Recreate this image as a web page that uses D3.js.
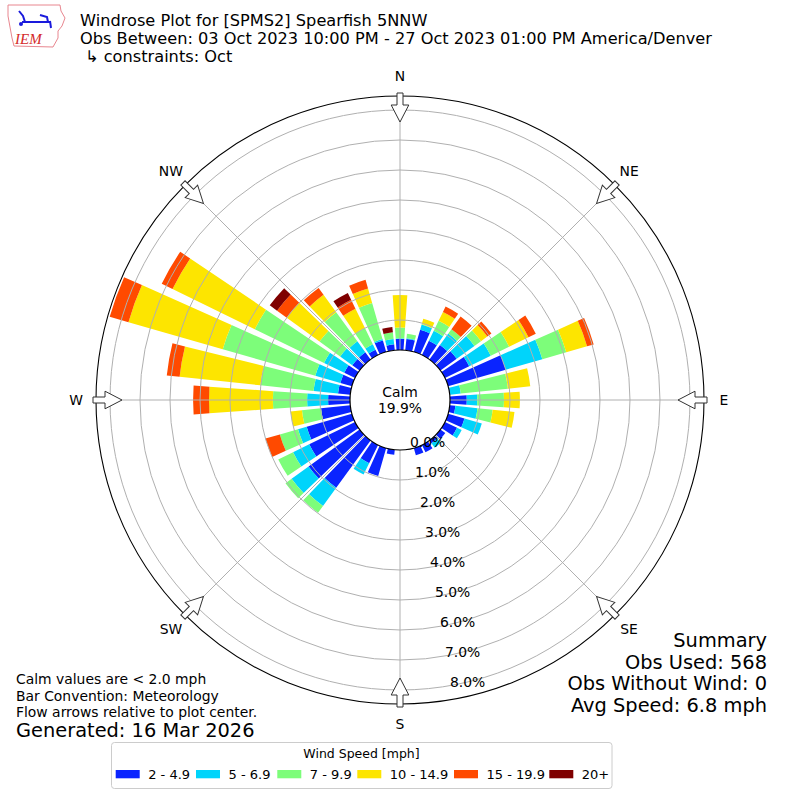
<!DOCTYPE html>
<html>
<head>
<meta charset="utf-8">
<script src="https://cdn.jsdelivr.net/npm/d3@7"></script>
<style>
  body { margin: 0; background: #fff; }
  text { font-family: "DejaVu Sans", sans-serif; fill: #000; }
</style>
</head>
<body>
<div id="rose"></div>
<script>
var svgWidth = 800;
var svgHeight = 800;
var cx = 400, cy = 400;

// direction bins (degrees, wind from), N = 0, clockwise
var directions = [0, 10, 20, 30, 40, 50, 60, 70, 80, 90, 100, 110,
                  120, 130, 140, 150, 160, 170, 180, 190, 200, 210, 220, 230,
                  240, 250, 260, 270, 280, 290, 300, 310, 320, 330, 340, 350];

// frequency (%) of each speed bin per direction
var freq_2_5   = [0.37, 0.38, 0.77, 0.53, 0.60, 0.67, 0.90, 2.00, 0.02, 0.56, 0.19, 0.57,
                  0.45, 0.20, 0.12, 0.27, 0.25, 0.00, 0.00, 0.17, 0.97, 0.68, 1.95, 2.10,
                  1.70, 1.57, 0.98, 0.73, 0.41, 0.40, 0.40, 0.30, 0.30, 0.20, 0.40, 0.20];
var freq_5_7   = [0.02, 0.02, 0.18, 0.37, 0.47, 0.73, 0.80, 1.27, 0.35, 0.35, 0.74, 0.60,
                  0.17, 0.00, 0.18, 0.00, 0.00, 0.00, 0.00, 0.00, 0.00, 0.42, 0.75, 0.70,
                  0.60, 0.30, 0.00, 0.70, 0.82, 0.87, 0.75, 0.50, 0.45, 0.20, 0.05, 0.18];
var freq_7_10  = [0.36, 0.15, 0.02, 0.37, 0.18, 0.27, 0.68, 0.83, 1.58, 0.89, 0.51, 0.00,
                  0.00, 0.00, 0.00, 0.00, 0.00, 0.00, 0.00, 0.00, 0.00, 0.00, 0.28, 0.25,
                  0.55, 0.63, 0.64, 1.14, 1.78, 3.21, 2.57, 0.85, 1.20, 0.60, 1.25, 0.22];
var freq_10_15 = [1.08, 0.00, 0.18, 0.33, 0.00, 0.26, 0.72, 0.72, 0.75, 0.53, 0.73, 0.00,
                  0.00, 0.00, 0.00, 0.00, 0.00, 0.00, 0.00, 0.00, 0.00, 0.00, 0.00, 0.00,
                  0.00, 0.00, 0.38, 2.13, 2.71, 3.27, 3.05, 1.35, 0.72, 0.72, 0.50, 0.00];
var freq_15_20 = [0.00, 0.00, 0.00, 0.20, 0.52, 0.17, 0.27, 0.23, 0.00, 0.00, 0.00, 0.00,
                  0.00, 0.00, 0.00, 0.00, 0.00, 0.00, 0.00, 0.00, 0.00, 0.00, 0.00, 0.00,
                  0.00, 0.50, 0.00, 0.53, 0.43, 0.65, 0.40, 0.40, 0.28, 0.33, 0.30, 0.00];
var freq_20up  = [0.00, 0.00, 0.00, 0.00, 0.00, 0.00, 0.00, 0.00, 0.00, 0.00, 0.00, 0.00,
                  0.00, 0.00, 0.00, 0.00, 0.00, 0.00, 0.00, 0.00, 0.00, 0.00, 0.00, 0.00,
                  0.00, 0.00, 0.00, 0.00, 0.00, 0.00, 0.00, 0.30, 0.00, 0.25, 0.00, 0.18];

var speedLabels = ["2 - 4.9", "5 - 6.9", "7 - 9.9", "10 - 14.9", "15 - 19.9", "20+"];
var speedColors = ["#0a24ff", "#00d4fb", "#7dfd7a", "#fde500", "#ff4a00", "#7f0000"];
var allFreq = [freq_2_5, freq_5_7, freq_7_10, freq_10_15, freq_15_20, freq_20up];

var ringTicks = [0, 1, 2, 3, 4, 5, 6, 7, 8];
var compassNames = ["N", "NE", "E", "SE", "S", "SW", "W", "NW"];
var compassAngles = [0, 45, 90, 135, 180, 225, 270, 315];

var titleLines = ["Windrose Plot for [SPMS2] Spearfish 5NNW",
                  "Obs Between: 03 Oct 2023 10:00 PM - 27 Oct 2023 01:00 PM America/Denver",
                  "\u21b3 constraints: Oct"];
var noteLines = ["Calm values are < 2.0 mph", "Bar Convention: Meteorology",
                 "Flow arrows relative to plot center."];
var summaryLines = ["Summary", "Obs Used: 568", "Obs Without Wind: 0", "Avg Speed: 6.8 mph"];
var calmPct = 19.9;

var svg = d3.select("#rose")
  .append("svg")
  .attr("width", svgWidth)
  .attr("height", svgHeight);

var rScale = d3.scaleLinear().domain([0, 8.4667]).range([50, 304]);
var rad = d => d * Math.PI / 180;

var chartGroup = svg.append("g")
  .attr("transform", `translate(${cx}, ${cy})`);

// stacked bar segments
var segs = [];
directions.forEach(function(dir, i) {
  var start = 0;
  allFreq.forEach(function(f, b) {
    var end = start + f[i];
    if (f[i] > 0) segs.push({dir: dir, lo: start, hi: end, bin: b});
    start = end;
  });
});

var arc = d3.arc();
chartGroup.selectAll("path.bar")
  .data(segs)
  .enter()
  .append("path")
  .attr("class", "bar")
  .attr("d", d => arc({
    innerRadius: rScale(d.lo),
    outerRadius: rScale(d.hi),
    startAngle: rad(d.dir - 4),
    endAngle: rad(d.dir + 4)
  }))
  .attr("fill", d => speedColors[d.bin]);

// grid circles
chartGroup.selectAll("circle.grid")
  .data(ringTicks.slice(1))
  .enter()
  .append("circle")
  .attr("r", d => rScale(d))
  .attr("fill", "none")
  .attr("stroke", "#b0b0b0")
  .attr("stroke-width", 1);

// radial lines
chartGroup.selectAll("line.spoke")
  .data(compassAngles)
  .enter()
  .append("line")
  .attr("x1", d => rScale(0) * Math.sin(rad(d)))
  .attr("y1", d => -rScale(0) * Math.cos(rad(d)))
  .attr("x2", d => rScale.range()[1] * Math.sin(rad(d)))
  .attr("y2", d => -rScale.range()[1] * Math.cos(rad(d)))
  .attr("stroke", "#b0b0b0")
  .attr("stroke-width", 1);

// calm circle and outer frame
chartGroup.append("circle")
  .attr("r", rScale(0))
  .attr("fill", "white")
  .attr("stroke", "black")
  .attr("stroke-width", 1.2);

chartGroup.append("circle")
  .attr("r", rScale.range()[1])
  .attr("fill", "none")
  .attr("stroke", "black")
  .attr("stroke-width", 1.1);

chartGroup.append("text")
  .attr("y", -3)
  .attr("text-anchor", "middle")
  .style("font-size", "13.9px")
  .text("Calm");
chartGroup.append("text")
  .attr("y", 13)
  .attr("text-anchor", "middle")
  .style("font-size", "13.9px")
  .text(calmPct.toFixed(1) + "%");

// flow arrows pointing to the centre
var rOut = rScale.range()[1];
var arrowPath = `M-3,${-rOut - 3} L3,${-rOut - 3} L3,${-rOut + 9} L8.8,${-rOut + 9} ` +
                `L0,${-rOut + 26} L-8.8,${-rOut + 9} L-3,${-rOut + 9} Z`;
chartGroup.selectAll("path.arrow")
  .data(compassAngles)
  .enter()
  .append("path")
  .attr("d", arrowPath)
  .attr("transform", d => `rotate(${d})`)
  .attr("fill", "white")
  .attr("stroke", "#333")
  .attr("stroke-width", 1);

// compass labels
chartGroup.selectAll("text.compass")
  .data(compassNames)
  .enter()
  .append("text")
  .attr("x", (d, i) => 324 * Math.sin(rad(compassAngles[i])))
  .attr("y", (d, i) => -324 * Math.cos(rad(compassAngles[i])) + 5)
  .attr("text-anchor", "middle")
  .style("font-size", "13.9px")
  .text(d => d);

// ring labels
chartGroup.selectAll("text.ring")
  .data(ringTicks)
  .enter()
  .append("text")
  .attr("x", d => 10 + (rScale(d) - rScale(0)) / 6)
  .attr("y", d => 47 + (rScale(d) - rScale(0)))
  .style("font-size", "13.9px")
  .text(d => d.toFixed(1) + "%");

// titles
svg.selectAll("text.title")
  .data(titleLines)
  .enter()
  .append("text")
  .attr("x", (d, i) => i == 2 ? 85 : 80)
  .attr("y", (d, i) => 26 + i * 18)
  .style("font-size", "16.2px")
  .text(d => d);

// bottom left notes
svg.selectAll("text.note")
  .data(noteLines)
  .enter()
  .append("text")
  .attr("x", 16)
  .attr("y", (d, i) => 684 + i * 16.5)
  .style("font-size", "13.9px")
  .text(d => d);

svg.append("text")
  .attr("x", 16)
  .attr("y", 737)
  .style("font-size", "19.4px")
  .text("Generated: 16 Mar 2026");

// summary
svg.selectAll("text.summary")
  .data(summaryLines)
  .enter()
  .append("text")
  .attr("x", 767)
  .attr("y", (d, i) => 647 + i * 21.7)
  .attr("text-anchor", "end")
  .style("font-size", "19.4px")
  .text(d => d);

// legend
var legend = svg.append("g");
legend.append("rect")
  .attr("x", 111.5).attr("y", 742.5)
  .attr("width", 500.5).attr("height", 46)
  .attr("rx", 3)
  .attr("fill", "white")
  .attr("stroke", "#cccccc");
legend.append("text")
  .attr("x", 361.5).attr("y", 758)
  .attr("text-anchor", "middle")
  .style("font-size", "12.5px")
  .text("Wind Speed [mph]");
var legendX = [115.7, 196, 277.3, 357.3, 454, 549.3];
var items = legend.selectAll("g.item")
  .data(speedLabels)
  .enter()
  .append("g")
  .attr("transform", (d, i) => `translate(${legendX[i]}, 770)`);
items.append("rect")
  .attr("width", 24).attr("height", 8.3)
  .attr("fill", (d, i) => speedColors[i]);
items.append("text")
  .attr("x", 32.5).attr("y", 9)
  .style("font-size", "13px")
  .text(d => d);

// IEM logo (rough)
var logo = svg.append("g");
logo.append("path")
  .attr("d", "M8,5 L60,5 L61,11 L65,18 L62,26 L58,31 L58,38 L53,47 L14,46 L12,38 L10,27 L8,16 Z")
  .attr("fill", "white")
  .attr("stroke", "#e8868f")
  .attr("stroke-width", 1);
logo.append("line")
  .attr("x1", 22).attr("y1", 22).attr("x2", 50).attr("y2", 22)
  .attr("stroke", "#1a1adc").attr("stroke-width", 2);
logo.append("path")
  .attr("d", "M19,11 L23,16 L25,22 M40,15 L47,17 L48,22 M50,21 L51,28")
  .attr("fill", "none")
  .attr("stroke", "#1a1adc").attr("stroke-width", 2);
logo.append("circle").attr("cx", 21).attr("cy", 24).attr("r", 2).attr("fill", "#1a1adc");
logo.append("text")
  .attr("x", 15).attr("y", 44)
  .style("font-family", "'Liberation Serif', serif")
  .style("font-style", "italic")
  .style("font-size", "15px")
  .style("fill", "#d42a2a")
  .text("IEM");
</script>
</body>
</html>
